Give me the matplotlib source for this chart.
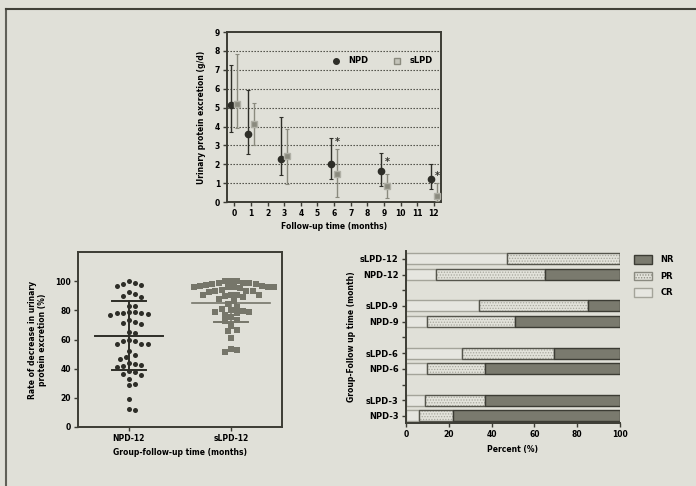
import numpy as np
import matplotlib
matplotlib.use("Agg")
import matplotlib.pyplot as plt
from matplotlib.lines import Line2D
from matplotlib.patches import Patch

# ---- data: urinary protein excretion over follow-up ----
months = [0, 1, 3, 6, 9, 12]
npd_mean = [5.15, 3.6, 2.3, 2.0, 1.65, 1.25]
npd_low = [3.7, 2.55, 1.45, 1.25, 0.85, 0.7]
npd_high = [7.25, 5.95, 4.5, 3.4, 2.6, 2.0]
slpd_mean = [5.2, 4.15, 2.45, 1.5, 0.85, 0.35]
slpd_low = [3.9, 3.0, 0.95, 0.3, 0.2, 0.05]
slpd_high = [7.85, 5.25, 3.85, 2.8, 1.5, 1.0]
star_months = [6, 9, 12]
star_y = [3.2, 2.1, 1.4]

# ---- data: rate of decrease at 12 months (%) ----
npd12 = [100, 98.2, 96.6, 97.7, 98.9, 92.5, 91.3, 90, 89, 83.3, 83.3,
         79, 78.5, 77.4, 76.7, 78, 78.5, 78.8, 73.5, 71.9, 70.8, 71.5,
         65, 64.4, 59.8, 58.7, 57, 56.6, 57, 58.9, 51.8, 49.3, 46.3, 47.9,
         41.6, 42.7, 43.8, 41.1, 43.4, 38.4, 37.4, 36.5, 35.4, 33.1,
         28.5, 29.7, 19.4, 11.9, 12.6]
slpd12 = [99.1, 98, 96.9, 98.5, 99.8, 99.8, 99.8, 98.5, 97.2, 96.9, 98,
          95.7, 96.2, 96.2, 95.7, 95.2, 95.7, 93.0, 93.5, 93.9, 93.5, 92.3,
          90.7, 90, 90.7, 89.4, 90.7, 90.7, 87.7, 86.6, 84.3, 82.6, 80.9,
          79.3, 78.3, 78.9, 78.9, 80.4, 75.7, 77, 73.4, 72.6, 69.5,
          65.6, 66.4, 61.1, 53.6, 51.3, 52.9]
npd12_mean, npd12_sd_lo, npd12_sd_hi = 62.5, 39, 86.5
slpd12_mean, slpd12_sd_lo = 85, 72

# ---- data: response categories (%) ----
groups = ["NPD-3", "sLPD-3", "NPD-6", "sLPD-6", "NPD-9", "sLPD-9",
          "NPD-12", "sLPD-12"]
cr = [6, 9, 10, 26, 10, 34, 14, 47]
pr = [16, 28, 27, 43, 41, 51, 51, 53]
nr = [78, 63, 63, 31, 49, 15, 35, 0]

bg = "#e0e0d8"
dark = "#2e2e28"
grey = "#76766a"
plt.rcParams["font.family"] = "DejaVu Sans"
plt.rcParams["font.weight"] = "bold"
plt.rcParams["font.size"] = 5.5
plt.rcParams["hatch.linewidth"] = 0.6


def style(ax, box=True):
    ax.set_facecolor(bg)
    for s in ax.spines.values():
        s.set_color("#3c3c34")
        s.set_linewidth(1.4)
    if not box:
        ax.spines["top"].set_visible(False)
        ax.spines["right"].set_visible(False)
    ax.tick_params(length=3, width=1, color="#3c3c34", labelsize=5.5,
                   pad=2)


def swarm(values, center, dx_px, dy_px, d):
    # simple beeswarm: offsets in pixels, converted back to data units
    vals = np.asarray(values, dtype=float)
    order = np.argsort(-vals)
    placed = []
    xs = np.zeros(len(vals))
    for i in order:
        y = vals[i] * dy_px
        k = 0
        ok = None
        while ok is None:
            cands = [0] if k == 0 else [k * d * 0.5, -k * d * 0.5]
            for c in cands:
                if all((c - px) ** 2 + (y - py) ** 2 >= d * d for px, py in placed):
                    ok = c
                    break
            k += 1
        placed.append((ok, y))
        xs[i] = center + ok / dx_px
    return xs


fig = plt.figure(figsize=(6.96, 4.86), dpi=100)
fig.patch.set_facecolor(bg)
fig.add_artist(Line2D([0.0093, 0.0093], [0, 0.981], color="#606058", lw=1.5))
fig.add_artist(Line2D([0.0093, 1], [0.981, 0.981], color="#404038", lw=1.5))

# ---------------- top plot ----------------
ax1 = fig.add_axes([0.326, 0.584, 0.308, 0.35])
style(ax1)
m = np.array(months, dtype=float)
for i in range(1, 9):
    ax1.axhline(i, color="#3c3c34", lw=0.8, ls=(0, (1.2, 1.5)), zorder=0)
nm = np.array(npd_mean)
sm = np.array(slpd_mean)
ax1.errorbar(m - 0.18, nm, yerr=[nm - np.array(npd_low), np.array(npd_high) - nm],
             fmt="o", color=dark, ms=4.5, elinewidth=1.0, capsize=1.5,
             capthick=0.8, zorder=3)
ax1.errorbar(m + 0.18, sm, yerr=[sm - np.array(slpd_low), np.array(slpd_high) - sm],
             fmt="s", color="#8a8a7e", mfc="#8a8a7e", mec="#b0b0a6", ms=5,
             elinewidth=1.0, capsize=1.5, capthick=0.8, zorder=3)
for mo, y in zip(star_months, star_y):
    ax1.text(mo + 0.2, y, "*", ha="center", va="center", fontsize=7,
             color=dark)
ax1.set_xlim(-0.45, 12.45)
ax1.set_ylim(0, 9)
ax1.set_xticks(range(0, 13))
ax1.set_yticks(range(0, 10))
ax1.set_xlabel("Follow-up time (months)", fontsize=5.5, fontweight="bold",
               labelpad=3)
ax1.set_ylabel("Urinary protein excretion (g/d)", fontsize=5.5,
               fontweight="bold", labelpad=6)
lh = [Line2D([], [], ls="none", marker="o", color=dark, ms=4),
      Line2D([], [], ls="none", marker="s", mfc="#c4c4ba", mec="#8a8a7e",
             ms=4.5)]
ax1.legend(lh, ["NPD", "sLPD"], loc="center", bbox_to_anchor=(0.725, 0.83),
           ncol=2, frameon=False, fontsize=6, handlelength=1.0,
           handletextpad=1.0, columnspacing=3.0)

# ---------------- scatter plot ----------------
ax2 = fig.add_axes([0.112, 0.1214, 0.293, 0.36])
style(ax2)
dx_px = 204 / 2.0
dy_px = 175 / 120.0
xa = swarm(npd12, 0, dx_px, dy_px, 6.2)
xb = swarm(slpd12, 1, dx_px, dy_px, 6.2)
ax2.scatter(xa, npd12, s=13, marker="o", color=dark, linewidths=0, zorder=3)
ax2.scatter(xb, slpd12, s=14, marker="s", color=grey, linewidths=0, zorder=3)
ax2.plot([-0.33, 0.33], [npd12_mean] * 2, color=dark, lw=1.4, zorder=4)
ax2.plot([0, 0], [npd12_sd_lo, npd12_sd_hi], color=dark, lw=1.4, zorder=4)
for v in (npd12_sd_lo, npd12_sd_hi):
    ax2.plot([-0.165, 0.165], [v, v], color=dark, lw=1.4, zorder=4)
ax2.plot([0.62, 1.38], [slpd12_mean] * 2, color=grey, lw=1.2, zorder=4)
ax2.plot([1, 1], [slpd12_sd_lo, slpd12_mean], color=grey, lw=1.2, zorder=2)
ax2.plot([0.835, 1.165], [slpd12_sd_lo] * 2, color=grey, lw=1.4, zorder=4)
ax2.set_xlim(-0.5, 1.5)
ax2.set_ylim(0, 120)
ax2.set_yticks(range(0, 101, 20))
ax2.set_xticks([0, 1])
ax2.set_xticklabels(["NPD-12", "sLPD-12"])
ax2.set_xlabel("Group-follow-up time (months)", fontsize=5.5,
               fontweight="bold", labelpad=4)
ax2.set_ylabel("Rate of decrease in urinary\nprotein excretion (%)",
               fontsize=5.5, fontweight="bold", labelpad=6)

# ---------------- stacked bars ----------------
ax3 = fig.add_axes([0.583, 0.1296, 0.308, 0.354])
style(ax3, box=False)
pos = [0, 1, 3, 4, 6, 7, 9, 10]
h = 0.7
crv = np.array(cr, dtype=float)
prv = np.array(pr, dtype=float)
nrv = np.array(nr, dtype=float)
ax3.barh(pos, crv, height=h, color="#e6e6e0", edgecolor="#a4a49a", lw=1.0)
ax3.barh(pos, prv, left=crv, height=h, color="#e2e2da", edgecolor="#a8a89e",
         hatch="......", lw=0)
ax3.barh(pos, prv, left=crv, height=h, color="none", edgecolor="#55554c",
         lw=1.0)
ax3.barh(pos, nrv, left=crv + prv, height=h, color="#7a7a6e",
         edgecolor="#3c3c34", lw=1.0)
ax3.set_xlim(0, 100)
ax3.set_ylim(-0.45, 10.5)
ax3.set_xticks(range(0, 101, 20))
ax3.set_yticks(range(0, 11))
ax3.set_yticklabels(["NPD-3", "sLPD-3", "", "NPD-6", "sLPD-6", "",
                     "NPD-9", "sLPD-9", "", "NPD-12", "sLPD-12"],
                    fontsize=6)
ax3.set_xlabel("Percent (%)", fontsize=5.5, fontweight="bold", labelpad=4)
ax3.set_ylabel("Group-Follow up time (month)", fontsize=5.5,
               fontweight="bold", labelpad=3)
handles = [Patch(facecolor="#7a7a6e", edgecolor="#3c3c34", lw=1.0),
           Patch(facecolor="#e2e2da", edgecolor="#8a8a80", hatch="......",
                 lw=1.0),
           Patch(facecolor="#e6e6e0", edgecolor="#a4a49a", lw=1.0)]
ax3.legend(handles, ["NR", "PR", "CR"], loc="upper left",
           bbox_to_anchor=(1.03, 1.02), frameon=False, fontsize=6,
           handlelength=2.2, handleheight=1.2, labelspacing=0.9,
           handletextpad=1.0)

fig.savefig("out.png", dpi=100, facecolor=bg)
